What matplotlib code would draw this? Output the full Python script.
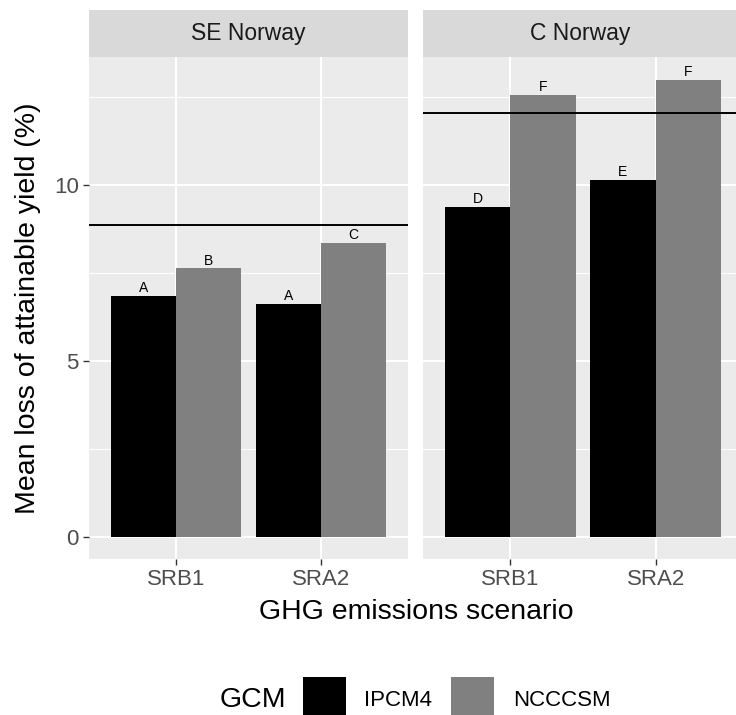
import matplotlib.pyplot as plt
from matplotlib.patches import Rectangle

plt.rcParams['font.family'] = ['Liberation Sans', 'DejaVu Sans']

# ----- data -----
scenarios = ["SRB1", "SRA2"]
gcms = ["IPCM4", "NCCCSM"]
regions = ["SE Norway", "C Norway"]
se_ipcm4 = [6.85, 6.62]
se_ncccsm = [7.63, 8.35]
c_ipcm4 = [9.38, 10.14]
c_ncccsm = [12.56, 12.99]
baseline = [8.86, 12.04]
se_letters = [["A", "A"], ["B", "C"]]
c_letters = [["D", "E"], ["F", "F"]]

values = {
    "SE Norway": [se_ipcm4, se_ncccsm],
    "C Norway": [c_ipcm4, c_ncccsm],
}
letters = {"SE Norway": se_letters, "C Norway": c_letters}
colors = ["#000000", "#808080"]

W, H = 736, 715
fig = plt.figure(figsize=(W / 100, H / 100), dpi=100)


def fr(x0, y0, x1, y1):
    # pixel box (top-left origin) -> figure fraction rect
    return [x0 / W, 1 - y1 / H, (x1 - x0) / W, (y1 - y0) / H]


panel_x = [(89, 408), (423, 743)]
for k, reg in enumerate(regions):
    x0, x1 = panel_x[k]
    ax = fig.add_axes(fr(x0, 57, x1, 559))
    ax.set_facecolor("#EBEBEB")
    for s in ax.spines.values():
        s.set_visible(False)
    ax.set_xlim(0.4, 2.6)
    ax.set_ylim(-0.625, 13.636)
    ax.set_axisbelow(True)
    for y in [2.5, 7.5, 12.5]:
        ax.axhline(y, color="white", lw=0.75, zorder=0)
    for y in [0, 5, 10]:
        ax.axhline(y, color="white", lw=1.5, zorder=0)
    xs = list(range(1, len(scenarios) + 1))
    for x in xs:
        ax.axvline(x, color="white", lw=1.5, zorder=0)

    for g, gname in enumerate(gcms):
        pos = [x + (g - 0.5) * 0.45 for x in xs]
        vals = values[reg][g]
        ax.bar(pos, vals, width=0.45, color=colors[g], zorder=2)
        for p, v, lab in zip(pos, vals, letters[reg][g]):
            ax.text(p, v + 0.02, lab, ha="center", va="bottom", fontsize=10,
                    color="#000000", zorder=3)

    ax.axhline(baseline[k], color="black", lw=1.4, zorder=4)

    ax.set_xticks(xs)
    ax.set_xticklabels(scenarios)
    ax.set_yticks([0, 5, 10])
    ax.tick_params(axis="both", colors="#333333", length=4.4, width=1.0,
                   labelsize=16, labelcolor="#4D4D4D", pad=3)
    if k == 0:
        ax.set_yticklabels(["0", "5", "10"])
    else:
        ax.tick_params(axis="y", left=False, labelleft=False)

    sax = fig.add_axes(fr(x0, 10, x1, 57))
    sax.set_facecolor("#D9D9D9")
    sax.set_xticks([])
    sax.set_yticks([])
    for s in sax.spines.values():
        s.set_visible(False)
    sax.text(0.5 if k == 0 else (580 - x0) / (x1 - x0), 0.5, reg,
             ha="center", va="center", fontsize=16.5, color="#1A1A1A",
             transform=sax.transAxes)

fig.text(28 / W, 1 - 308 / H, "Mean loss of attainable yield (%)", rotation=90,
         ha="center", va="center", fontsize=20.5, color="black")
fig.text(416 / W, 1 - 612 / H, "GHG emissions scenario", ha="center",
         va="center", fontsize=20.5, color="black")

# ----- legend -----
fig.text(220 / W, 1 - 700 / H, "GCM", ha="left", va="center", fontsize=20.5)
key_x = [303, 451]
lab_x = [364, 513]
for g, gname in enumerate(gcms):
    fig.patches.append(Rectangle((key_x[g] / W, 1 - 720 / H), 43 / W, 43 / H,
                                 transform=fig.transFigure, facecolor=colors[g],
                                 edgecolor="none"))
    fig.text(lab_x[g] / W, 1 - 700 / H, gname, ha="left", va="center",
             fontsize=16)

fig.savefig("out.png", dpi=100)
